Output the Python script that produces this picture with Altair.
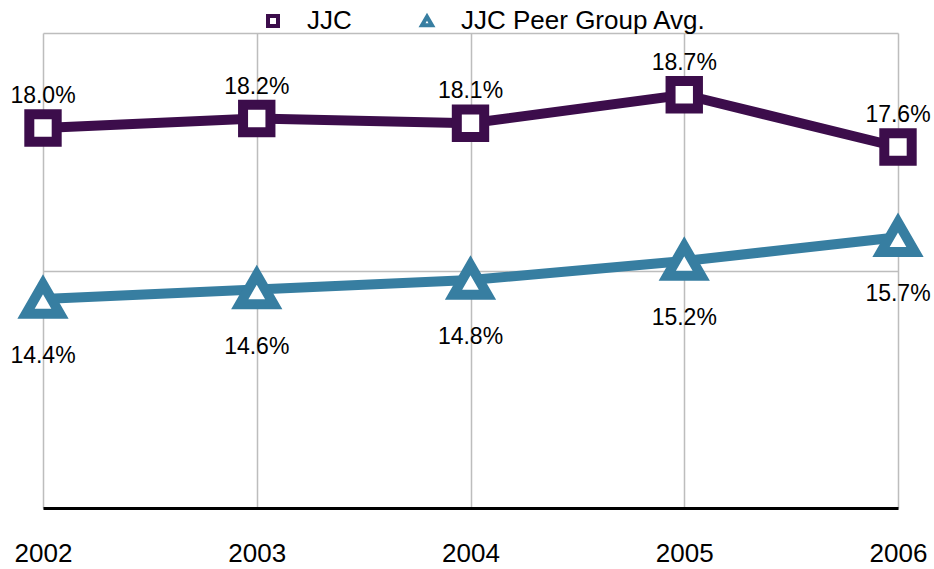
import altair as alt
import pandas as pd

years = [2002, 2003, 2004, 2005, 2006]
jjc = [18.0, 18.2, 18.1, 18.7, 17.6]
peer = [14.4, 14.6, 14.8, 15.2, 15.7]
series_names = ["JJC", "JJC Peer Group Avg."]
colors = ["#3c0d4b", "#377ea1"]

rows = []
for y, v in zip(years, jjc):
    rows.append({"year": y, "series": series_names[0], "value": v, "label": f"{v:.1f}%"})
for y, v in zip(years, peer):
    rows.append({"year": y, "series": series_names[1], "value": v, "label": f"{v:.1f}%"})
df = pd.DataFrame(rows)

FONT = "Liberation Sans"

x = alt.X("year:Q", scale=alt.Scale(domain=[2002, 2006], nice=False, zero=False),
          axis=alt.Axis(values=years, format="d", title=None, grid=True, gridColor="#bdbdbd",
                        gridWidth=1.5, domainColor="#000000", domainWidth=3, ticks=False,
                        labelFontSize=26, labelFont=FONT, labelColor="#000000", labelPadding=32,
                        labelFlush=False))
y = alt.Y("value:Q", scale=alt.Scale(domain=[10, 20], nice=False, zero=False),
          axis=alt.Axis(values=[10, 15, 20], title=None, labels=False, ticks=False, domain=False,
                        grid=True, gridColor="#bdbdbd", gridWidth=1.5))
col_scale = alt.Scale(domain=series_names, range=colors)
shape_scale = alt.Scale(domain=series_names, range=["square", "triangle-up"])
legend = alt.Legend(title=None, orient="none", direction="horizontal",
                    legendX=217, legendY=-25, labelFontSize=26, labelFont=FONT,
                    labelColor="#000000", columnPadding=62, symbolSize=100, labelLimit=500,
                    symbolStrokeWidth=4, labelOffset=21, symbolFillColor="white")

base = alt.Chart(df)

def line(name, color):
    return base.transform_filter(alt.datum.series == name).mark_line(
        strokeWidth=10, color=color).encode(x=x, y=y)

def pts(name, size):
    return base.transform_filter(alt.datum.series == name).mark_point(
        filled=False, fill="white", fillOpacity=1, strokeWidth=10, opacity=1, size=size
    ).encode(
        x=x, y=y,
        color=alt.Color("series:N", scale=col_scale, legend=legend),
        shape=alt.Shape("series:N", scale=shape_scale, legend=legend),
    )

l1 = line(series_names[0], colors[0])
l2 = line(series_names[1], colors[1])
sq = pts(series_names[0], 750)
tri = pts(series_names[1], 1150)

txt_top = base.transform_filter(alt.datum.series == series_names[0]).mark_text(
    dy=-32, fontSize=23, font=FONT, color="#000000").encode(x=x, y=y, text="label:N")
txt_bot = base.transform_filter(alt.datum.series == series_names[1]).mark_text(
    dy=57, fontSize=23, font=FONT, color="#000000").encode(x=x, y=y, text="label:N")

chart = alt.layer(l1, l2, sq, tri, txt_top, txt_bot).properties(
    width=855, height=475,
    autosize=alt.AutoSizeParams(type="none"),
    padding={"left": 43, "top": 33, "right": 36, "bottom": 61},
).configure_view(stroke=None)

chart.save("out.html", embed_options={"renderer": "svg", "actions": False})
